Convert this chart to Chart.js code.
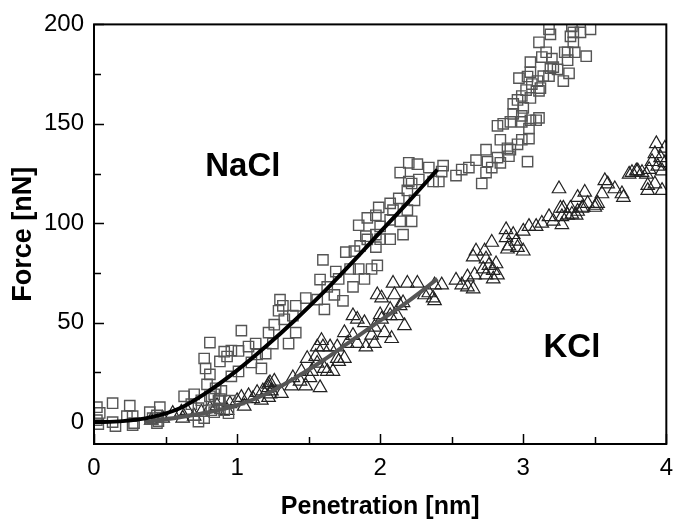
<!DOCTYPE html>
<html>
<head>
<meta charset="utf-8">
<script src="https://cdn.jsdelivr.net/npm/chart.js@4"></script>
<style>
  html, body { margin: 0; padding: 0; background: #fff; }
  #chart { display: block; }
</style>
</head>
<body>
<canvas id="chart" width="683" height="525"></canvas>
<script>
// NaCl squares
const naclX = [0.02,0.04,0.02,0.03,0.13,0.13,0.15,0.25,0.23,0.27,0.27,0.28,0.39,0.46,0.44,0.44,0.41,0.45,
  0.63,0.70,0.68,0.75,0.73,0.77,0.81,0.85,0.88,0.88,0.84,0.94,0.73,
  0.77,0.81,0.78,0.81,0.79,0.84,0.87,0.89,0.82,0.88,0.91,0.93,0.96,1.01,1.03,0.96,1.01,0.95,0.91,
  1.08,1.13,1.14,1.20,1.22,1.25,1.26,1.10,1.17,
  1.30,1.32,1.29,1.33,1.39,1.41,1.48,1.41,1.36,1.56,1.61,1.58,1.60,1.63,1.68,1.74,1.69,1.71,1.76,1.81,
  1.79,1.85,1.82,1.89,1.86,1.94,1.98,1.91,1.97,1.90,1.97,2.00,2.07,2.16,1.85,1.91,1.97,2.00,2.07,2.14,
  2.22,1.99,2.07,2.09,2.13,2.19,2.24,2.19,2.22,2.14,2.20,2.26,2.20,2.27,
  2.34,2.44,2.43,2.41,2.37,2.53,2.57,2.62,2.67,2.74,2.75,2.74,2.71,2.78,2.82,2.84,2.90,2.91,3.03,2.84,
  2.89,2.96,2.99,3.04,2.82,2.86,2.91,2.99,3.04,3.05,2.93,2.99,3.09,3.11,
  2.93,2.96,2.99,3.02,3.00,3.05,3.11,3.06,3.10,3.03,2.97,3.05,3.14,3.19,3.24,3.32,3.28,3.12,3.05,3.13,
  3.20,3.16,3.11,3.18,3.19,3.31,3.31,3.33,3.34,3.35,3.40,3.47,3.35,3.29,3.36,3.44,3.21,3.18];
const naclY = [7.5,4.6,1,-1,9.5,0,-2,8.3,3,-1.5,3,-0.5,5,7.5,3.4,-0.5,2,0.5,
  13,14,9,11,7,2,13,17,11.6,6.9,5,4.5,0.3,
  32,40,27,24,19,14,11,15.7,6,30.5,35.4,33,36,35.8,46,23,25.5,10.8,6,
  38,39.5,34,34.5,45,39.5,49,30,27,
  61.6,58.5,56,51.7,53.5,58.5,62.4,45,39.5,61.6,56.7,71.7,81.6,68,64,61,75.7,72,85.5,68,
  77,77,86,72,88.6,77,78.8,91.9,88,93.5,94.3,92,92,94.3,99,102.7,104,98.4,101.7,101,
  101,108,110,106.6,112.5,106.6,111.5,116.5,120,125.5,130.4,129.7,121,122,
  128,129,126,121,121,124,127,128,131.7,137,131,125.5,120,128,133,130.4,133.7,137,131,142,
  137.7,139.7,142,142.6,149,150,151,151,147.6,151.8,155,154,151.8,153,
  160,162,164,167,158,163,166.6,170,171.5,173.8,173,176,174,178,177.4,175.4,171.5,168,181,183.6,
  182.8,186,191,197.5,195,186,182,194,199,196,196,197.5,191,186,186,184,178.5,174];

// KCl triangles
const kclX = [0.40,0.48,0.55,0.61,0.65,0.62,0.70,0.75,0.81,0.86,0.93,0.95,1.00,1.03,1.08,1.11,1.14,1.18,1.22,1.23,
  1.22,1.24,1.26,1.17,1.05,1.23,1.31,1.22,1.38,1.39,1.44,1.48,1.45,1.51,1.52,1.58,1.49,1.55,1.56,1.63,
  1.67,1.61,1.59,1.60,1.56,1.65,1.70,1.70,1.75,1.71,1.75,1.81,1.77,1.84,1.90,1.96,1.81,1.84,1.89,1.94,
  1.96,2.00,2.01,2.03,2.08,2.07,2.12,1.98,2.01,2.07,2.09,2.10,2.14,2.17,2.19,2.26,2.16,2.31,
  2.34,2.37,2.38,2.43,2.38,2.53,2.57,2.61,2.61,2.65,2.66,2.65,2.67,2.73,2.78,2.74,2.76,2.72,2.81,2.79,
  2.74,2.82,2.79,2.88,2.88,2.90,2.93,2.95,2.96,2.89,3.00,3.00,3.04,
  3.09,3.13,3.18,3.21,3.27,3.25,3.26,3.27,3.31,3.33,3.37,3.38,3.41,3.43,3.45,3.50,3.52,3.55,3.57,3.59,
  3.64,3.69,3.70,3.74,3.79,3.86,3.87,3.87,3.92,3.97,3.90,3.94,3.97,3.99,3.93,3.99,3.92,3.96,3.88,3.83,
  3.76,3.80,3.28,3.34,3.38,3.42,3.51];
const kclY = [1,2,4.4,5,5.9,2,3,5,6.9,8.3,5.9,9.3,10.8,12.4,13.3,11.8,14.9,15.7,17.3,14.2,
  19,15.7,20.6,11,8,19.8,14.4,12.4,18.2,22.3,20.6,18.2,25.5,22.3,25.5,17.3,32,33,29.6,25.5,
  25.5,27,41,37.8,37.8,37.8,37.8,32,32,30.5,45,43.6,39.5,39.5,37.8,39.5,53.5,51.7,50,43.7,
  47.7,54,51.7,45,42,53.5,53.5,64,62.4,56.7,69.8,64,58.5,48.5,69.8,69.8,60,64,
  65,62.4,69,69,61,71.4,69,68,73,67,74,83,86,86,90.4,82,78.8,77,79.6,76.3,
  74,74,72,96.8,92.7,88.6,94.3,91,87.8,87,86,96,98.4,
  98.4,100,103.3,101,99.3,117.3,107.5,103.3,104,107.5,104,113,107.5,115.6,110,108,110,114.8,121.4,119.8,
  117.3,114.8,113,124.7,126.3,124.7,119,116.5,119.8,116.5,131,128.7,126.3,130.4,140,137.7,135,133,127,125.5,
  125.5,126.3,107.6,104.5,106,108,109];

// fitted curves
const naclFitX = [0, 0.2, 0.4, 0.6, 0.8, 1.0, 1.2, 1.4, 1.6, 1.8, 2.0, 2.2, 2.4];
const naclFitY = [0, 0.5, 2.5, 7, 15.5, 26, 38, 51, 65, 80, 95.5, 111, 127];
const kclFitX = [0.35, 0.6, 0.8, 1.0, 1.2, 1.4, 1.6, 1.8, 2.0, 2.2, 2.4];
const kclFitY = [0, 2.5, 5, 8.5, 14, 22, 31, 41, 51, 61, 72];

const xTickValues = [0, 1, 2, 3, 4];
const yTickValues = [0, 50, 100, 150, 200];

const labels = [
  { text: 'NaCl', x: 1.04, y: 128.5 },
  { text: 'KCl', x: 3.34, y: 37.5 }
];

const toPoints = (xs, ys) => xs.map((x, i) => ({ x: x, y: ys[i] }));

const FONT = "'Liberation Sans', Arial, sans-serif";

// frame box, inward ticks and the two in-plot labels
const framePlugin = {
  id: 'frame',
  afterDraw(chart) {
    const { ctx, chartArea: a } = chart;
    const xs = chart.scales.x, ys = chart.scales.y;
    ctx.save();
    ctx.strokeStyle = '#000';
    ctx.lineWidth = 1.5;
    ctx.beginPath();
    for (let v = 0; v <= 4; v += 0.5) {
      const px = Math.round(xs.getPixelForValue(v)) + 0.5;
      const len = v % 1 === 0 ? 10 : 7;
      ctx.moveTo(px, a.bottom);
      ctx.lineTo(px, a.bottom - len);
    }
    for (let v = 0; v <= 200; v += 25) {
      const py = Math.round(ys.getPixelForValue(v)) + 0.5;
      const len = v % 50 === 0 ? 10 : 7;
      ctx.moveTo(a.left, py);
      ctx.lineTo(a.left + len, py);
    }
    ctx.stroke();
    ctx.lineWidth = 2;
    ctx.strokeRect(a.left, a.top, a.right - a.left, a.bottom - a.top);

    ctx.fillStyle = '#000';
    ctx.font = 'bold 33px ' + FONT;
    ctx.textAlign = 'center';
    ctx.textBaseline = 'middle';
    labels.forEach(l => {
      ctx.fillText(l.text, xs.getPixelForValue(l.x), ys.getPixelForValue(l.y));
    });
    ctx.restore();
  }
};

new Chart(document.getElementById('chart'), {
  type: 'scatter',
  data: {
    datasets: [
      {
        label: 'NaCl',
        data: toPoints(naclX, naclY),
        order: 2,
        pointStyle: 'rect',
        pointRadius: 7.3,
        borderColor: '#555',
        backgroundColor: 'rgba(0,0,0,0)',
        pointBorderWidth: 1.4,
        showLine: false
      },
      {
        label: 'KCl',
        data: toPoints(kclX, kclY),
        order: 3,
        pointStyle: 'triangle',
        pointRadius: 7.8,
        borderColor: '#222',
        backgroundColor: 'rgba(0,0,0,0)',
        pointBorderWidth: 1.2,
        showLine: false
      },
      {
        label: 'NaCl fit',
        data: toPoints(naclFitX, naclFitY),
        order: 0,
        showLine: true,
        borderColor: '#000',
        borderWidth: 4,
        pointRadius: 0,
        cubicInterpolationMode: 'monotone'
      },
      {
        label: 'KCl fit',
        data: toPoints(kclFitX, kclFitY),
        order: 1,
        showLine: true,
        borderColor: '#555',
        borderWidth: 4,
        pointRadius: 0,
        cubicInterpolationMode: 'monotone'
      }
    ]
  },
  options: {
    responsive: false,
    animation: false,
    layout: { padding: { top: 15, right: 11, left: 0, bottom: 0 } },
    plugins: { legend: { display: false }, tooltip: { enabled: false } },
    scales: {
      x: {
        type: 'linear',
        min: 0,
        max: 4,
        afterBuildTicks: s => { s.ticks = xTickValues.map(v => ({ value: v })); },
        afterFit: s => { s.height = 81; },
        grid: { display: false, drawTicks: false },
        border: { display: false },
        ticks: { color: '#000', font: { family: FONT, size: 24 }, padding: 10, maxRotation: 0 },
        title: {
          display: true,
          text: 'Penetration [nm]',
          color: '#000',
          font: { family: FONT, size: 25, weight: 'bold' },
          padding: { top: 0, bottom: 3 }
        }
      },
      y: {
        type: 'linear',
        min: -11,
        max: 200,
        afterBuildTicks: s => { s.ticks = yTickValues.map(v => ({ value: v })); },
        afterFit: s => { s.width = 94; },
        grid: { display: false, drawTicks: false },
        border: { display: false },
        ticks: { color: '#000', font: { family: FONT, size: 24 }, padding: 10 },
        title: {
          display: true,
          text: 'Force [nN]',
          color: '#000',
          font: { family: FONT, size: 27, weight: 'bold' },
          padding: { top: 7, bottom: 0 }
        }
      }
    }
  },
  plugins: [framePlugin]
});
</script>
</body>
</html>
